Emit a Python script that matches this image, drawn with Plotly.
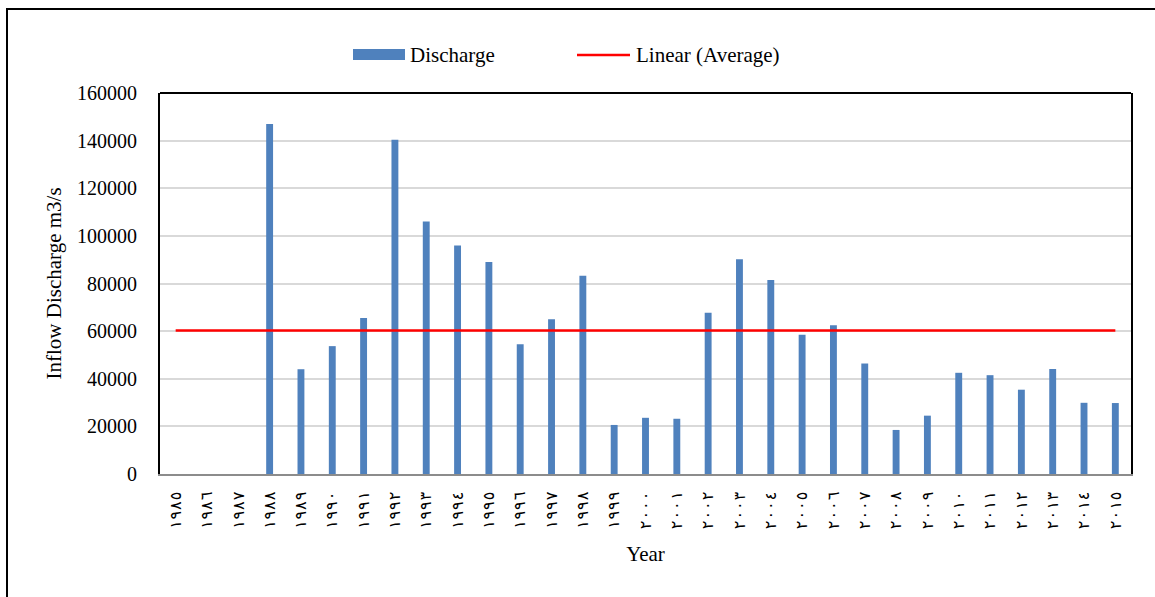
import plotly.graph_objects as go

# Year labels (Arabic-Indic digits) and annual inflow discharge (m3/s)
years = list(range(1985, 2016))
year_labels = [
    "١٩٨٥", "١٩٨٦", "١٩٨٧", "١٩٨٨", "١٩٨٩", "١٩٩٠", "١٩٩١", "١٩٩٢",
    "١٩٩٣", "١٩٩٤", "١٩٩٥", "١٩٩٦", "١٩٩٧", "١٩٩٨", "١٩٩٩", "٢٠٠٠",
    "٢٠٠١", "٢٠٠٢", "٢٠٠٣", "٢٠٠٤", "٢٠٠٥", "٢٠٠٦", "٢٠٠٧", "٢٠٠٨",
    "٢٠٠٩", "٢٠١٠", "٢٠١١", "٢٠١٢", "٢٠١٣", "٢٠١٤", "٢٠١٥",
]
discharge = [
    0, 0, 0, 147000, 44000, 53700, 65500, 140400,
    106000, 96000, 89000, 54500, 65000, 83300, 20600, 23600,
    23200, 67700, 90200, 81500, 58500, 62500, 46400, 18500,
    24500, 42500, 41500, 35400, 44100, 29900, 29800,
]
average = [60300] * len(years)

y_ticks = [0, 20000, 40000, 60000, 80000, 100000, 120000, 140000, 160000]

W, H = 1155, 597
L, R, T, B = 160, 24, 93, 123
PW, PH = W - L - R, H - T - B


def px(x):
    return (x - L) / PW


def py(y):
    return (H - B - y) / PH


SERIF = "Liberation Serif, Times New Roman, DejaVu Sans, serif"

fig = go.Figure()
fig.add_trace(go.Bar(
    x=year_labels, y=discharge, name="Discharge",
    marker=dict(color="#4F81BD", line=dict(width=0)),
    showlegend=False,
))
fig.add_trace(go.Scatter(
    x=year_labels, y=average, name="Linear (Average)", mode="lines",
    line=dict(color="#FF0000", width=2.5),
    showlegend=False,
))

shapes = [
    # outer chart frame
    dict(type="rect", xref="paper", yref="paper",
         x0=px(7), x1=px(1300), y0=py(700), y1=py(9),
         line=dict(color="black", width=2), layer="below"),
    # top edge of plot area
    dict(type="line", xref="paper", yref="paper",
         x0=0, x1=1, y0=1, y1=1, line=dict(color="black", width=2)),
    # legend keys
    dict(type="rect", xref="paper", yref="paper",
         x0=px(353), x1=px(405), y0=py(60), y1=py(49),
         fillcolor="#4F81BD", line=dict(width=0)),
    dict(type="line", xref="paper", yref="paper",
         x0=px(577), x1=px(630), y0=py(55), y1=py(55),
         line=dict(color="#FF0000", width=2.5)),
]

annotations = [
    dict(text="Discharge", xref="paper", yref="paper", x=px(408), y=py(55),
         xanchor="left", yanchor="middle", showarrow=False,
         font=dict(family=SERIF, size=21, color="black")),
    dict(text="Linear (Average)", xref="paper", yref="paper", x=px(634), y=py(55),
         xanchor="left", yanchor="middle", showarrow=False,
         font=dict(family=SERIF, size=21, color="black")),
]

fig.update_layout(
    width=W, height=H,
    margin=dict(l=L, r=R, t=T, b=B, pad=0),
    paper_bgcolor="white", plot_bgcolor="white",
    bargap=0.78,
    shapes=shapes, annotations=annotations,
    font=dict(family=SERIF, color="black"),
    xaxis=dict(
        type="category",
        tickangle=-90,
        tickfont=dict(family="DejaVu Sans Mono, DejaVu Sans, monospace",
                      size=16, color="black"),
        showgrid=False,
        showline=True, linecolor="#8C8C8C", linewidth=1.5,
        ticks="outside", ticklen=9, tickcolor="white",
        title=dict(text="Year", font=dict(family=SERIF, size=21, color="black"),
                   standoff=18),
    ),
    yaxis=dict(
        range=[0, 160000],
        tickvals=y_ticks,
        tickformat="d",
        tickfont=dict(family=SERIF, size=20, color="black"),
        showgrid=True, gridcolor="#D9D9D9", gridwidth=1.5,
        zeroline=False,
        showline=True, linecolor="black", linewidth=2, mirror=True,
        ticks="outside", ticklen=17, tickcolor="white",
        title=dict(text="Inflow Discharge m3/s",
                   font=dict(family=SERIF, size=21, color="black"),
                   standoff=10),
    ),
)

fig.write_html("out.html")
